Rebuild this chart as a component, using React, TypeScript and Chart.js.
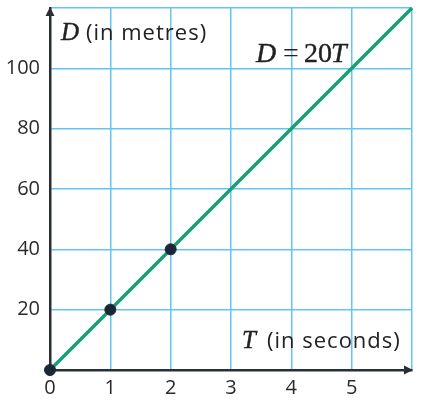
import React, { useEffect, useRef } from "react";
import { Chart, registerables } from "chart.js";

Chart.register(...registerables);

const lineTimes = [0, 6];
const lineDistances = [0, 120];
const markedTimes = [0, 1, 2];
const markedDistances = [0, 20, 40];
const xTicksShown = [0, 1, 2, 3, 4, 5];
const yTicksShown = [20, 40, 60, 80, 100];

const GRID = "#63c6ee";
const GREEN = "#1b9e77";
const DARK = "#2a2e35";
const POINT = "#1d2638";
const SANS = "'Open Sans', sans-serif";
const SERIF = "'Liberation Serif', serif";

const overlay = {
  id: "overlay",
  afterDraw(chart: any) {
    const { ctx, chartArea } = chart;
    const { left, right, top, bottom } = chartArea;
    ctx.save();
    ctx.fillStyle = DARK;
    // y arrow
    ctx.beginPath();
    ctx.moveTo(left, top - 1);
    ctx.lineTo(left - 4.5, top + 8);
    ctx.lineTo(left + 4.5, top + 8);
    ctx.closePath();
    ctx.fill();
    // x arrow
    ctx.beginPath();
    ctx.moveTo(right + 1, bottom);
    ctx.lineTo(right - 8, bottom - 4.5);
    ctx.lineTo(right - 8, bottom + 4.5);
    ctx.closePath();
    ctx.fill();

    ctx.fillStyle = "#222222";
    ctx.strokeStyle = "#222222";
    ctx.lineWidth = 0.4;
    ctx.textBaseline = "alphabetic";
    ctx.textAlign = "left";
    // D (in metres)
    ctx.font = `italic 25px ${SERIF}`;
    ctx.fillText("D", 61, 40);
    ctx.strokeText("D", 61, 40);
    ctx.font = `22px ${SANS}`;
    ctx.letterSpacing = "1px";
    ctx.fillText("(in metres)", 86, 40);
    ctx.letterSpacing = "0px";
    // T (in seconds)
    ctx.font = `italic 25px ${SERIF}`;
    ctx.fillText("T", 242, 348);
    ctx.strokeText("T", 242, 348);
    ctx.font = `22px ${SANS}`;
    ctx.letterSpacing = "1px";
    ctx.fillText("(in seconds)", 267, 348);
    ctx.letterSpacing = "0px";
    // D = 20T
    ctx.font = `italic 28px ${SERIF}`;
    ctx.fillText("D", 256, 62);
    ctx.strokeText("D", 256, 62);
    ctx.font = `28px ${SERIF}`;
    ctx.fillText("=", 283, 62);
    ctx.fillText("20", 304, 62);
    ctx.strokeText("20", 304, 62);
    ctx.font = `italic 28px ${SERIF}`;
    ctx.fillText("T", 331, 62);
    ctx.strokeText("T", 331, 62);
    ctx.restore();
  },
};

export default function App() {
  const ref = useRef<HTMLCanvasElement>(null);
  useEffect(() => {
    if (!ref.current) return;
    const chart = new Chart(ref.current, {
      type: "line",
      data: {
        datasets: [
          {
            type: "scatter",
            data: markedTimes.map((t, i) => ({ x: t, y: markedDistances[i] })),
            backgroundColor: POINT,
            borderColor: POINT,
            pointRadius: 5.5,
            order: 0,
            clip: false,
          } as any,
          {
            type: "line",
            data: lineTimes.map((t, i) => ({ x: t, y: lineDistances[i] })),
            borderColor: GREEN,
            borderWidth: 3.5,
            pointRadius: 0,
            order: 1,
            clip: false,
          } as any,
        ],
      },
      options: {
        responsive: false,
        animation: false,
        devicePixelRatio: 1,
        layout: { padding: { top: 8, right: 14, left: 0, bottom: 0 } },
        plugins: { legend: { display: false }, tooltip: { enabled: false } },
        scales: {
          x: {
            type: "linear",
            min: 0,
            max: 6,
            afterFit: (s: any) => {
              s.height = 33;
              s.paddingLeft = 0;
              s.paddingRight = 0;
            },
            ticks: {
              stepSize: 1,
              padding: 6,
              color: "#2a2a2a",
              font: { family: SANS, size: 20 },
              callback: (v: any) => (xTicksShown.includes(v) ? String(v) : ""),
            },
            grid: { color: GRID, lineWidth: 1.5, drawTicks: false },
            border: { display: true, color: DARK, width: 2.5 },
          },
          y: {
            type: "linear",
            min: 0,
            max: 120,
            afterFit: (s: any) => {
              s.width = 50;
              s.paddingTop = 0;
              s.paddingBottom = 0;
            },
            ticks: {
              stepSize: 20,
              padding: 10,
              color: "#2a2a2a",
              font: { family: SANS, size: 20 },
              callback: (v: any) => (yTicksShown.includes(v) ? String(v) : ""),
            },
            grid: { color: GRID, lineWidth: 1.5, drawTicks: false },
            border: { display: true, color: DARK, width: 2.5 },
          },
        },
      },
      plugins: [overlay],
    });
    return () => chart.destroy();
  }, []);
  return (
    <div style={{ position: "absolute", left: 0, top: 0, width: 426, height: 403, background: "#fff" }}>
      <canvas ref={ref} width={426} height={403} style={{ width: 426, height: 403, display: "block" }} />
    </div>
  );
}
